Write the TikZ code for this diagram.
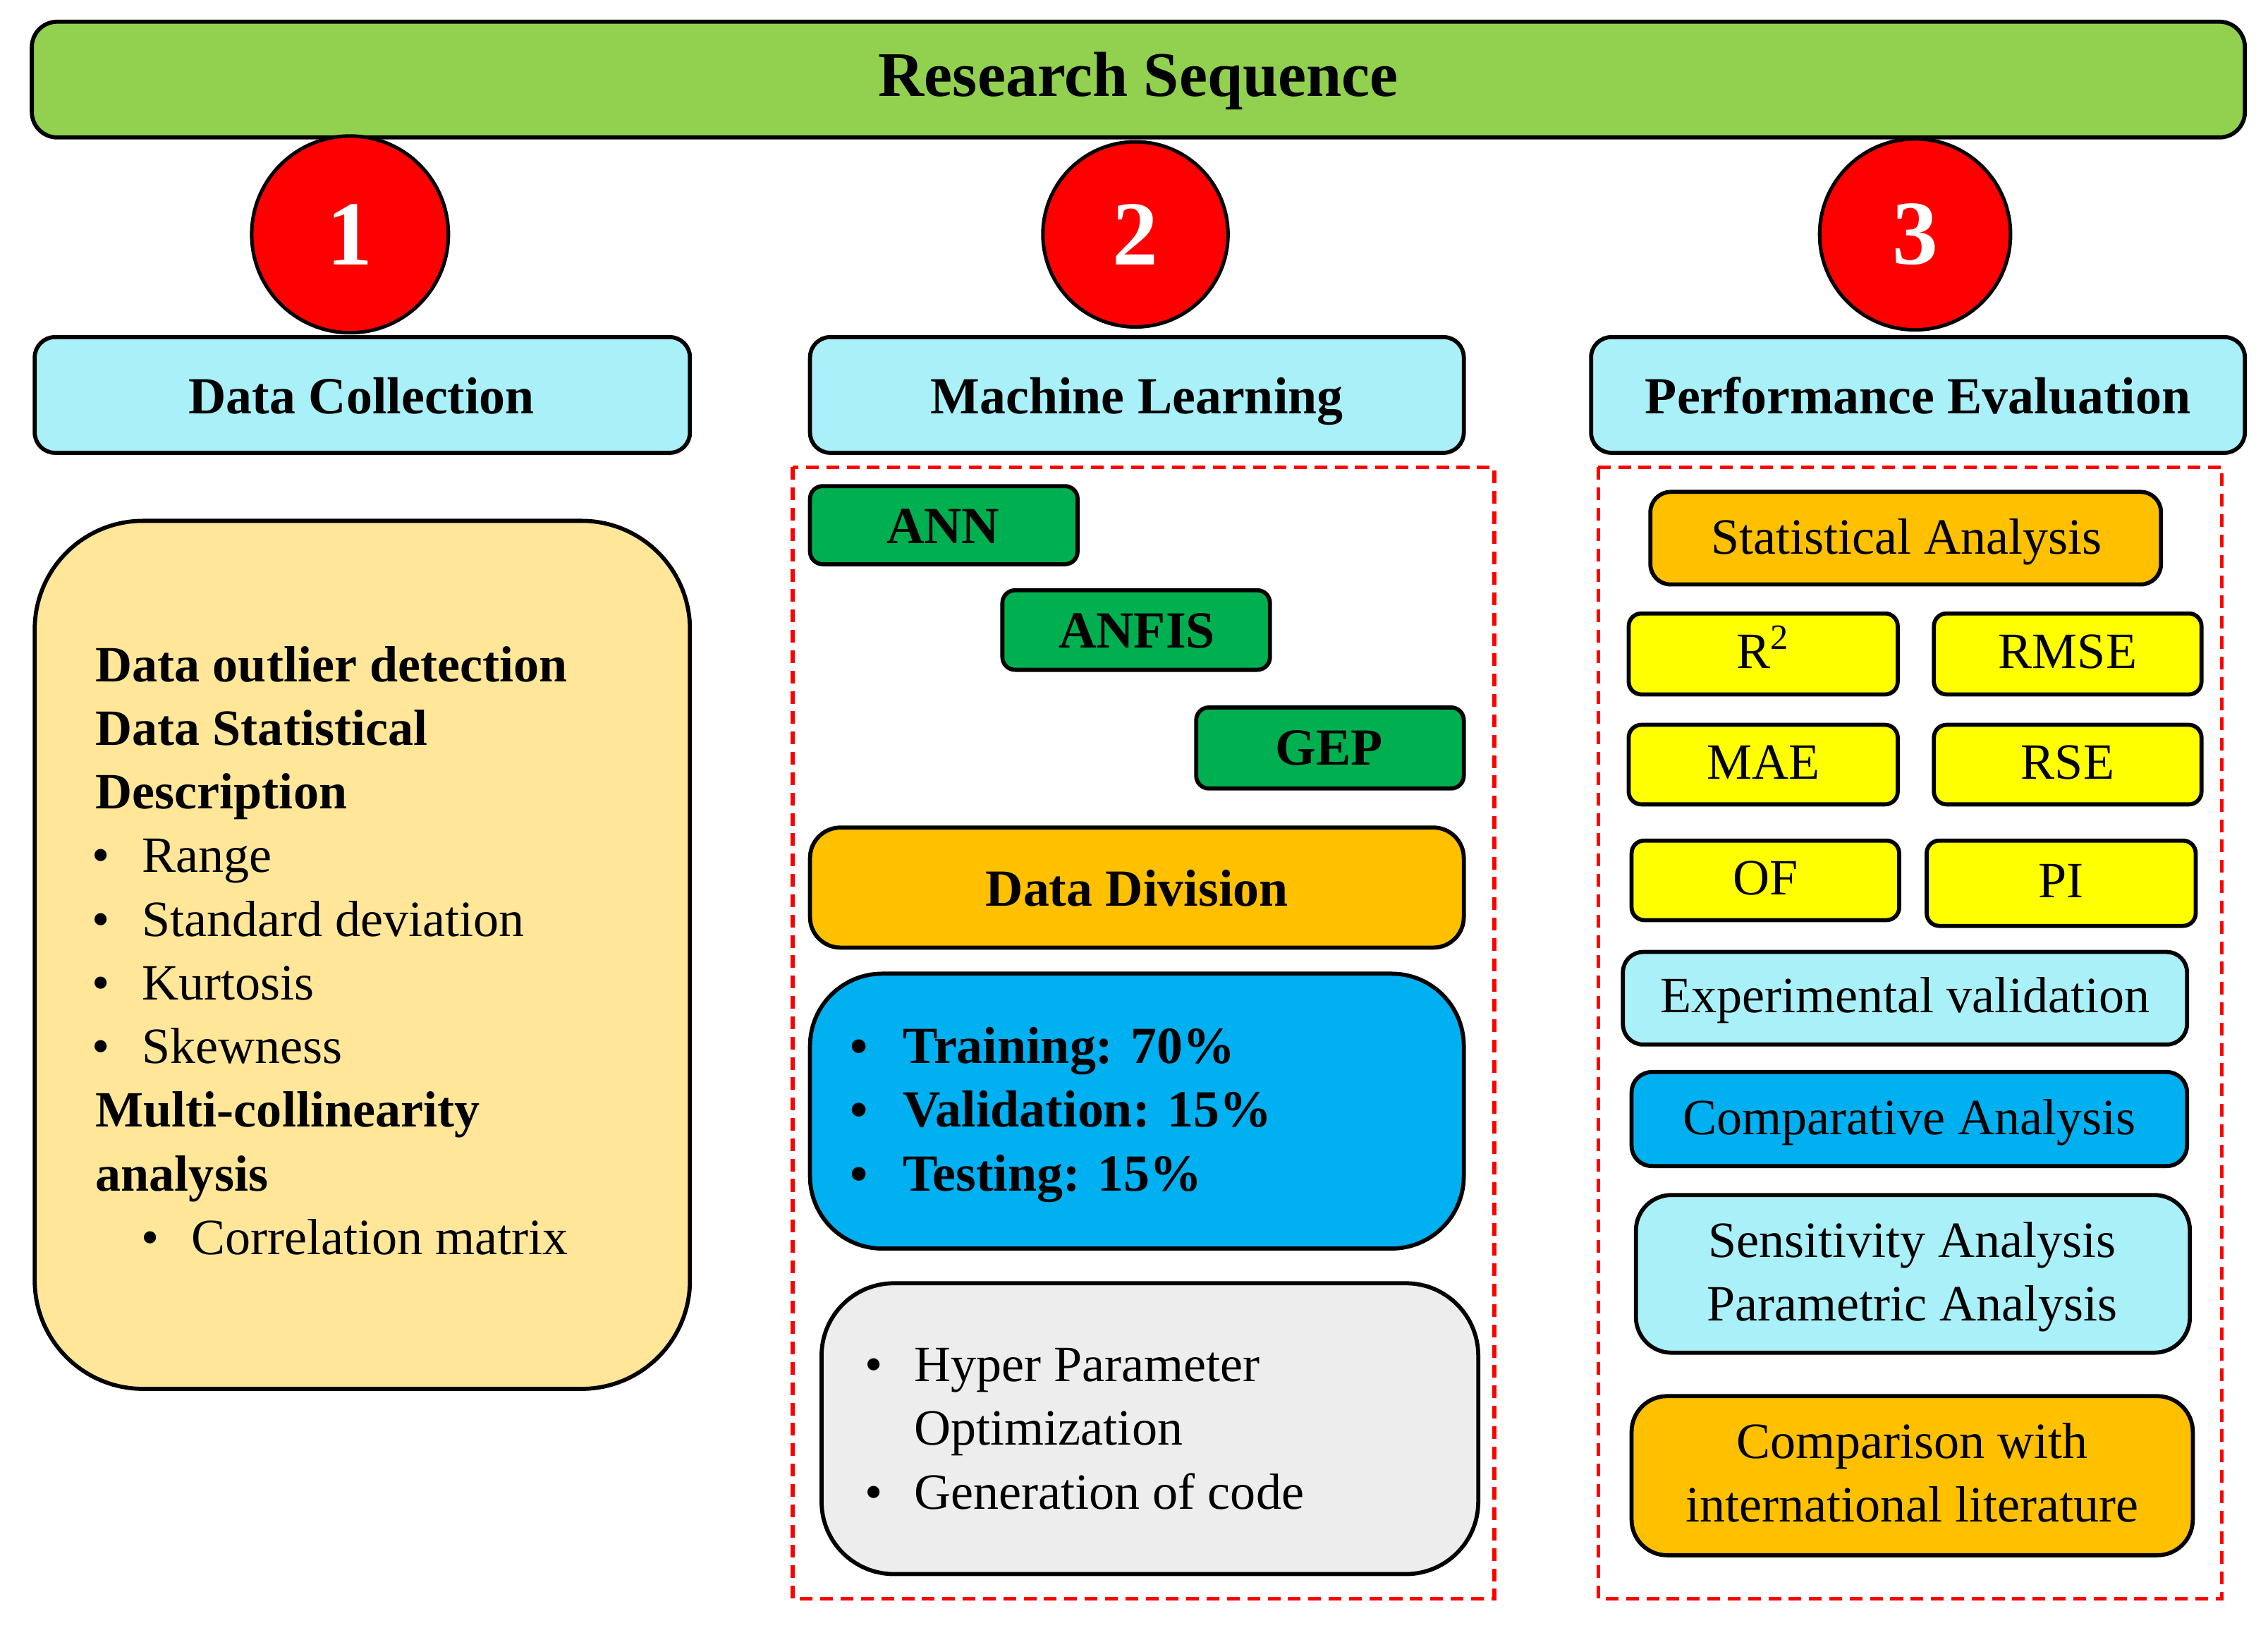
\documentclass[tikz,border=0pt]{standalone}
\usepackage{fontspec}
\setmainfont{Liberation Serif}
\begin{document}
\begin{tikzpicture}[x=0.02cm,y=-0.02cm,
 bx/.style={draw=black,line width=1.6pt,rounded corners=5pt},
 hd/.style={font=\fontsize{20.5}{24}\selectfont\bfseries},
 bd/.style={font=\fontsize{20}{24}\selectfont},
 bb/.style={font=\fontsize{20}{24}\selectfont\bfseries},
 dig/.style={circle,draw=black,line width=1.4pt,fill=red,text=white,font=\fontsize{36}{40}\selectfont\bfseries},
 dsh/.style={draw=red,dash pattern=on 5pt off 3pt,line width=1.6pt}]
\definecolor{grn}{HTML}{92D050}\definecolor{cy}{HTML}{A9F0F8}\definecolor{yl}{HTML}{FFE699}
\definecolor{dg}{HTML}{00B050}\definecolor{or}{HTML}{FFC000}\definecolor{bl}{HTML}{00B0F0}
\definecolor{gy}{HTML}{EDEDED}\definecolor{ye}{HTML}{FFFF00}
\useasboundingbox (0,0) rectangle (1568,1125);
\draw[bx,fill=grn,rounded corners=10pt] (22,15) rectangle (1552,95);
\node[font=\fontsize{25}{30}\selectfont\bfseries] (rs) at (787,56) {Research Sequence};
\node[dig,minimum size=2.72cm] (c1) at (242,162) {1};
\node[dig,minimum size=2.56cm] (c2) at (785,162) {2};
\node[dig,minimum size=2.64cm] (c3) at (1324,162) {3};
\draw[bx,fill=cy,rounded corners=8pt] (24,233) rectangle (477,313);
\node[hd,anchor=base] (h1) at (250,286) {Data Collection};
\draw[bx,fill=cy,rounded corners=8pt] (560,233) rectangle (1012,313);
\node[hd,anchor=base] (h2) at (786,286) {Machine Learning};
\draw[bx,fill=cy,rounded corners=8pt] (1100,233) rectangle (1552,313);
\node[hd,anchor=base] (h3) at (1326,286) {Performance Evaluation};
% left
\draw[bx,fill=yl,rounded corners=1.5cm] (24,360) rectangle (477,960);
\foreach \t/\y [count=\i] in {Data outlier detection/462,Data Statistical/506,Description/550,Multi-collinearity/770,analysis/814}
 \node[bb,anchor=base west] (l\i) at (60,\y+9) {\t};
\foreach \t/\y [count=\i] in {Range/594,Standard deviation/638,Kurtosis/682,Skewness/726}{
 \node[bd,anchor=base] (b\i) at (70,\y+9) {\textbullet};
 \node[bd,anchor=base west] (t\i) at (92,\y+9) {\t};}
\node[bd,anchor=base] (b5) at (104,867) {\textbullet};
\node[bd,anchor=base west] (t5) at (126,867) {Correlation matrix};
% ML
\draw[dsh] (548,323) rectangle (1033,1105);
\draw[bx,fill=dg] (560,336) rectangle (745,390); \node[hd] (ann) at (652,364) {ANN};
\draw[bx,fill=dg] (693,408) rectangle (878,463); \node[hd] (anfis) at (786,436) {ANFIS};
\draw[bx,fill=dg] (827,489) rectangle (1012,545); \node[hd] (gep) at (919,517) {GEP};
\draw[bx,fill=or,rounded corners=12pt] (560,572) rectangle (1012,655); \node[hd] (dd) at (786,614) {Data Division};
\draw[bx,fill=bl,rounded corners=1cm] (560,673) rectangle (1012,863);
\foreach \t/\y [count=\i] in {Training: 70\%/726,Validation: 15\%/770,Testing: 15\%/814}{
 \node[bb,anchor=base] (m\i) at (594,\y+9) {\textbullet};
 \node[anchor=base west,font=\fontsize{20.5}{24}\selectfont\bfseries] (n\i) at (618,\y+9) {\t};}
\draw[bx,fill=gy,rounded corners=1cm] (568,887) rectangle (1022,1088);
\node[bd,anchor=base] (g1) at (604,955) {\textbullet};
\node[bd,anchor=base west] (h1t) at (626,955) {Hyper Parameter};
\node[bd,anchor=base west] (h2t) at (626,999) {Optimization};
\node[bd,anchor=base] (g2) at (604,1043) {\textbullet};
\node[bd,anchor=base west] (h3t) at (626,1043) {Generation of code};
% PE
\draw[dsh] (1105,323) rectangle (1536,1105);
\draw[bx,fill=or,rounded corners=8pt] (1141,340) rectangle (1494,404); \node[bd,anchor=base] (sa) at (1318,383) {Statistical Analysis};
\foreach \n/\a/\b/\c/\d/\t in {r2/1126/424/1312/480/R\textsuperscript{2},rmse/1337/424/1522/480/RMSE,mae/1126/501/1312/556/MAE,rse/1337/501/1522/556/RSE,of/1128/581/1313/636/OF,pi/1332/581/1518/640/PI}{
 \draw[bx,fill=ye] (\a,\b) rectangle (\c,\d);
 \node[bd,anchor=base] (\n) at ({(\a+\c)/2},{(\b+\d)/2+10}) {\t};}
\draw[bx,fill=cy,rounded corners=8pt] (1122,658) rectangle (1512,722); \node[bd,anchor=base] (ev) at (1317,700) {Experimental validation};
\draw[bx,fill=bl,rounded corners=8pt] (1128,741) rectangle (1512,806); \node[bd,anchor=base] (ca) at (1320,784) {Comparative Analysis};
\draw[bx,fill=cy,rounded corners=14pt] (1131,826) rectangle (1514,935);
\node[bd,anchor=base] (sens1) at (1322,869) {Sensitivity Analysis};
\node[bd,anchor=base] (sens2) at (1322,913) {Parametric Analysis};
\draw[bx,fill=or,rounded corners=14pt] (1128,965) rectangle (1516,1075);
\node[bd,anchor=base] (cmp1) at (1322,1008) {Comparison with};
\node[bd,anchor=base] (cmp2) at (1322,1052) {international literature};
\end{tikzpicture}
\end{document}
